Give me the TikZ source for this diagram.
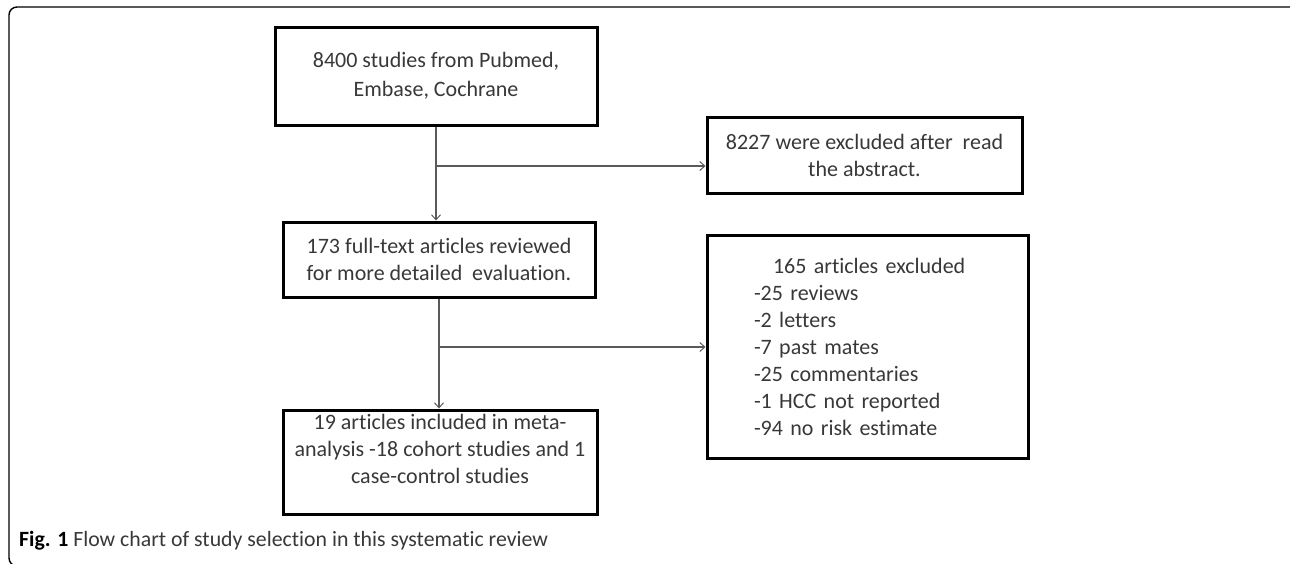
\documentclass[tikz,border=0pt]{standalone}
\usepackage{fontspec}
\setmainfont[Ligatures={NoCommon}]{Carlito}
\usetikzlibrary{arrows.meta}
\definecolor{txtgray}{HTML}{383838}
\definecolor{linegray}{HTML}{5A5A5A}
\tikzset{
  flowbox/.style={draw=black, line width=3pt, align=center, inner sep=0pt,
    text=txtgray, font=\fontsize{22}{27}\selectfont},
  conn/.style={draw=linegray, line width=1.2pt},
  connarrow/.style={conn, -{Straight Barb[length=5pt,width=9pt,line width=1pt]}},
}
\begin{document}
\begin{tikzpicture}[x=1pt,y=-1pt]
\useasboundingbox (0,0) rectangle (1290,563);
\draw[line width=1.4pt, rounded corners=8pt] (9,7) rectangle (1300,566);

\node[flowbox, minimum width=322pt, minimum height=98pt] (b1) at (436,76)
  {8400 studies from Pubmed,\\[2pt]Embase, Cochrane};
\node[flowbox, minimum width=315pt, minimum height=76pt] (ex1) at (864.5,155)
  {8227 were excluded after\ \ read\\the abstract.};
\node[flowbox, minimum width=312pt, minimum height=75pt] (b2) at (439,259.5)
  {173 full-text articles reviewed\\for more detailed\ \ evaluation.};
\node[flowbox, minimum width=321pt, minimum height=223pt, align=left,
  text width=227pt, inner xsep=47pt] (ex2) at (867.5,346.5)
  {\hspace*{19pt}165 articles excluded\\-25 reviews\\-2 letters\\-7 past mates\\-25 commentaries\\-1 HCC not reported\\-94 no risk estimate};
\node[flowbox, minimum width=314pt, minimum height=104pt] (b3) at (440,462)
  {19 articles included in meta-\\analysis -18 cohort studies and 1\\case-control studies\\[-8pt]\strut};

\coordinate (j1) at (436,166);
\coordinate (j2) at (439,347);
\draw[connarrow] (b1.south) -- (b1.south |- b2.north);
\draw[connarrow] (j1) -- (j1 -| ex1.west);
\draw[connarrow] (b2.south) -- (b2.south |- b3.north);
\draw[connarrow] (j2) -- (j2 -| ex2.west);

\node[anchor=west, inner sep=0pt, text=txtgray, font=\fontsize{21.8}{24}\selectfont] (cap) at (19,541)
  {\textcolor{black}{\bfseries Fig. 1} Flow chart of study selection in this systematic review};
\end{tikzpicture}
\end{document}
